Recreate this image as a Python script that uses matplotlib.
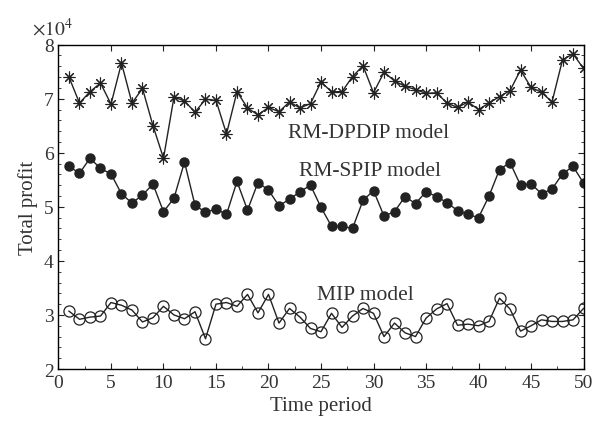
import numpy as np
import matplotlib.pyplot as plt
from matplotlib.ticker import MultipleLocator

# profits in units of 10^4
periods = np.arange(1, 51)
dpdip = [7.40, 6.92, 7.13, 7.29, 6.90, 7.66, 6.92, 7.19, 6.50, 5.90,
         7.03, 6.96, 6.75, 6.99, 6.97, 6.35, 7.13, 6.83, 6.70, 6.84,
         6.76, 6.94, 6.83, 6.91, 7.31, 7.13, 7.13, 7.41, 7.61, 7.11,
         7.49, 7.33, 7.23, 7.17, 7.10, 7.11, 6.92, 6.84, 6.94, 6.80,
         6.92, 7.04, 7.15, 7.53, 7.21, 7.12, 6.94, 7.72, 7.83, 7.56]
spip = [5.75, 5.62, 5.90, 5.71, 5.61, 5.24, 5.07, 5.22, 5.42, 4.91,
        5.16, 5.83, 5.03, 4.90, 4.96, 4.86, 5.47, 4.94, 5.45, 5.31,
        5.02, 5.14, 5.28, 5.40, 4.99, 4.64, 4.64, 4.60, 5.12, 5.30,
        4.83, 4.91, 5.19, 5.06, 5.28, 5.19, 5.08, 4.93, 4.86, 4.80,
        5.20, 5.69, 5.82, 5.40, 5.43, 5.24, 5.33, 5.61, 5.75, 5.44]
mip = [3.07, 2.92, 2.96, 2.98, 3.23, 3.18, 3.09, 2.87, 2.95, 3.16,
       3.00, 2.93, 3.06, 2.56, 3.20, 3.23, 3.16, 3.38, 3.04, 3.38,
       2.85, 3.12, 2.96, 2.75, 2.69, 3.03, 2.77, 2.98, 3.12, 3.03,
       2.60, 2.85, 2.67, 2.60, 2.94, 3.11, 3.21, 2.81, 2.83, 2.80,
       2.88, 3.31, 3.11, 2.70, 2.80, 2.91, 2.88, 2.88, 2.91, 3.12]

plt.rcParams['font.family'] = ['Liberation Serif', 'DejaVu Serif']
plt.rcParams['mathtext.fontset'] = 'stix'

fig = plt.figure(figsize=(5.95, 4.31), dpi=100)
ax = fig.add_axes([0.0983, 0.1415, 0.8824, 0.7525])

# asterisk marker like the original
ax.plot(periods, dpdip, color='#222222', lw=1, marker=(8, 2, 0), ms=8.5,
        markeredgewidth=0.8)
ax.plot(periods, spip, color='#222222', lw=1, marker='o', ms=6.5)
ax.plot(periods, mip, color='#222222', lw=1, marker='o', ms=8,
        mfc='none', markeredgewidth=0.9)

ax.text(29.5, 6.38, 'RM-DPDIP model', fontsize=15.5, ha='center', va='center', color='#333333')
ax.text(29.7, 5.67, 'RM-SPIP model', fontsize=15.5, ha='center', va='center', color='#333333')
ax.text(29.2, 3.38, 'MIP model', fontsize=15.5, ha='center', va='center', color='#333333')

ax.set_xlim(0, 50)
ax.set_ylim(2, 8)
ax.xaxis.set_major_locator(MultipleLocator(5))
ax.xaxis.set_minor_locator(MultipleLocator(2.5))
ax.yaxis.set_major_locator(MultipleLocator(1))
ax.yaxis.set_minor_locator(MultipleLocator(0.2))
ax.tick_params(which='both', direction='in', top=True, right=True,
               labelsize=14, colors='#222222', labelcolor='#333333')
ax.tick_params(which='major', length=4, width=0.8)
ax.tick_params(which='minor', length=2, width=0.6)
ax.tick_params(axis='x', which='minor', top=False)
for s in ax.spines.values():
    s.set_linewidth(1.0)

ax.set_xlabel('Time period', fontsize=15, color='#333333')
ax.set_ylabel('Total profit', fontsize=15, color='#333333')
ax.text(-0.05, 1.02, r'$\times10^{4}$', transform=ax.transAxes,
        fontsize=14, color='#333333', ha='left', va='bottom')

fig.savefig('out.png', dpi=100)
